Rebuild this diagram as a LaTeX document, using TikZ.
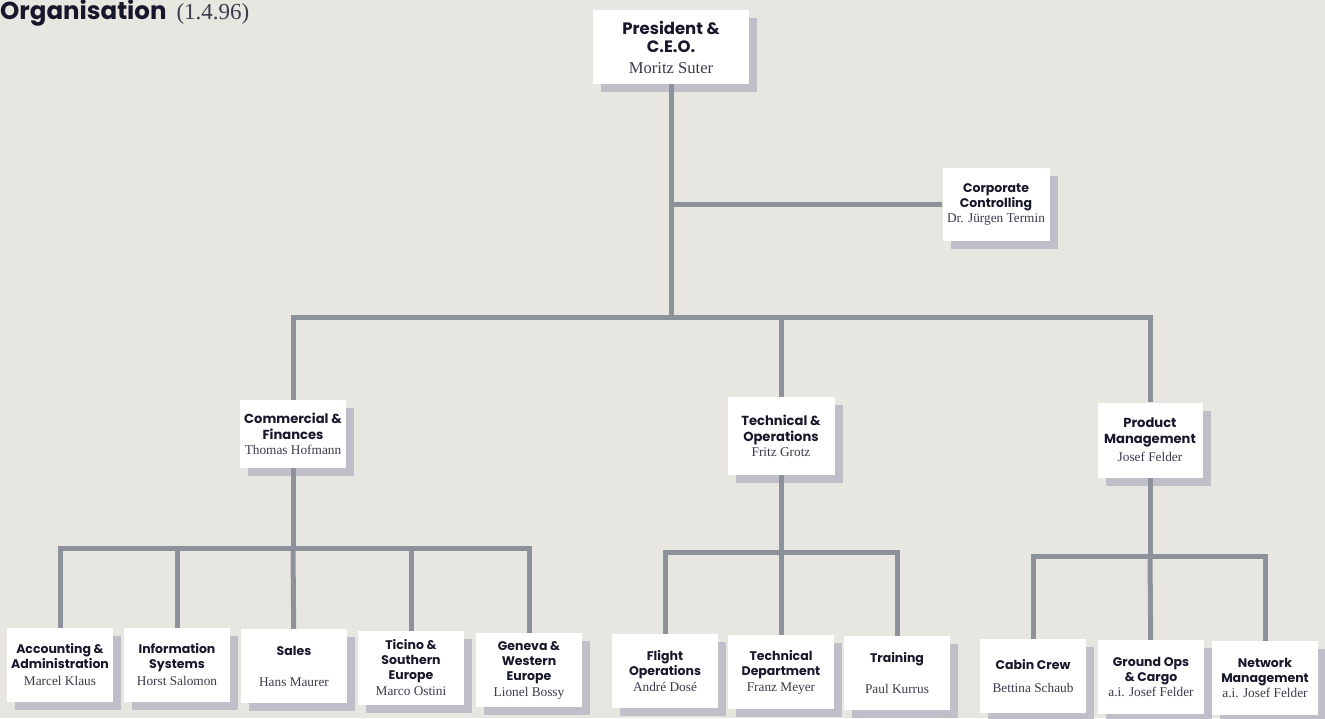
\documentclass[tikz,border=0pt]{standalone}
\usepackage{fontspec}
\setmainfont{Liberation Serif}
\newfontfamily\hdfont{Poppins}
\usetikzlibrary{shadows}
\definecolor{paper}{HTML}{E8E6E0}
\definecolor{conncol}{HTML}{8D9199}
\definecolor{shade}{HTML}{C0BFC9}
\definecolor{hdcol}{HTML}{17172B}
\definecolor{nmcol}{HTML}{3A3B4C}
\newcommand{\hd}[1]{{\hdfont\bfseries\color{hdcol}#1}}
\newcommand{\nm}[1]{{\rmfamily\fontsize{13.3}{15}\selectfont\color{nmcol}#1}}
\tikzset{
  box/.style={fill=white, inner sep=1pt, align=center,
    minimum width=106pt, minimum height=74pt,
    font=\fontsize{12.5}{15}\selectfont,
    drop shadow={shadow xshift=8pt, shadow yshift=-8pt, fill=shade, opacity=1}},
  midbox/.style={box, font=\fontsize{13.1}{15.5}\selectfont},
  conn/.style={draw=conncol, line width=5pt}
}
\begin{document}
\begin{tikzpicture}[x=1pt,y=-1pt]
\useasboundingbox (0,0) rectangle (1325,718);
\fill[paper] (0,0) rectangle (1325,718);

\node[anchor=base west, inner sep=0] (title) at (0,19)
  {\fontsize{24.5}{28}\selectfont\hd{Organisation}\hspace{10pt}{\rmfamily\fontsize{23}{28}\selectfont\color{nmcol}(1.4.96)}};

% top levels
\node[box, minimum width=156pt, font=\fontsize{16.5}{18}\selectfont] (pres) at (671,47)
  {\hd{President \&}\\\hd{C.E.O.}\\[3pt]{\rmfamily\fontsize{16.6}{18}\selectfont\color{nmcol}Moritz Suter}};
\node[box, minimum width=107pt, minimum height=73pt] (ctrl) at (996,204)
  {\hd{Corporate}\\\hd{Controlling}\\\nm{Dr. Jürgen Termin}};
\node[midbox, minimum height=68pt] (comm) at (293,434)
  {\hd{Commercial \&}\\\hd{Finances}\\\nm{Thomas Hofmann}};
\node[midbox, minimum width=107pt, minimum height=78pt] (tech) at (781,436)
  {\hd{Technical \&}\\\hd{Operations}\\\nm{Fritz Grotz}};
\node[midbox, minimum width=105pt, minimum height=75pt] (prod) at (1150,440)
  {\hd{Product}\\\hd{Management}\\[3pt]\nm{Josef Felder}};

% bottom row
\node[box] (acc) at (60,665)
  {\hd{Accounting \&}\\\hd{Administration}\\[2pt]\nm{Marcel Klaus}};
\node[box] (info) at (177,665)
  {\hd{Information}\\\hd{Systems}\\[2pt]\nm{Horst Salomon}};
\node[box] (sales) at (294,666)
  {\hd{Sales}\\[16pt]\nm{Hans Maurer}};
\node[box] (ticino) at (411,668)
  {\hd{Ticino \&}\\\hd{Southern}\\\hd{Europe}\\[1pt]\nm{Marco Ostini}};
\node[box] (geneva) at (529,670)
  {\hd{Geneva \&}\\\hd{Western}\\\hd{Europe}\\[1pt]\nm{Lionel Bossy}};
\node[box] (flight) at (665,671)
  {\hd{Flight}\\\hd{Operations}\\[1pt]\nm{André Dosé}};
\node[box] (techdep) at (781,672)
  {\hd{Technical}\\\hd{Department}\\[1pt]\nm{Franz Meyer}};
\node[box] (training) at (897,673)
  {\hd{Training}\\[16pt]\nm{Paul Kurrus}};
\node[box] (cabin) at (1033,676)
  {\hd{Cabin Crew}\\[8pt]\nm{Bettina Schaub}};
\node[box] (ground) at (1151,677)
  {\hd{Ground Ops}\\\hd{\& Cargo}\\\nm{a.i. Josef Felder}};
\node[box] (network) at (1265,678)
  {\hd{Network}\\\hd{Management}\\\nm{a.i. Josef Felder}};

% junctions
\coordinate (jc) at (671,204);
\coordinate (mb) at (671,317);
\coordinate (cb) at (293,548);
\coordinate (tb) at (781,552);
\coordinate (pb) at (1150,556);

% connectors
\draw[conn] (pres) -- (mb);
\draw[conn] (jc) -- (ctrl);
\draw[conn] (mb) -| (comm);
\draw[conn] (mb) -| (tech);
\draw[conn] (mb) -| (prod);

\draw[conn] (comm) -- (cb);
\draw[conn] (cb) -| (acc);
\draw[conn] (cb) -| (info);
\draw[conn] (cb) -- (sales);
\draw[conn] (cb) -| (ticino);
\draw[conn] (cb) -| (geneva);

\draw[conn] (tech) -- (tb);
\draw[conn] (tb) -| (flight);
\draw[conn] (tb) -- (techdep);
\draw[conn] (tb) -| (training);

\draw[conn] (prod) -- (pb);
\draw[conn] (pb) -| (cabin);
\draw[conn] (pb) -- (ground);
\draw[conn] (pb) -| (network);
\end{tikzpicture}
\end{document}
